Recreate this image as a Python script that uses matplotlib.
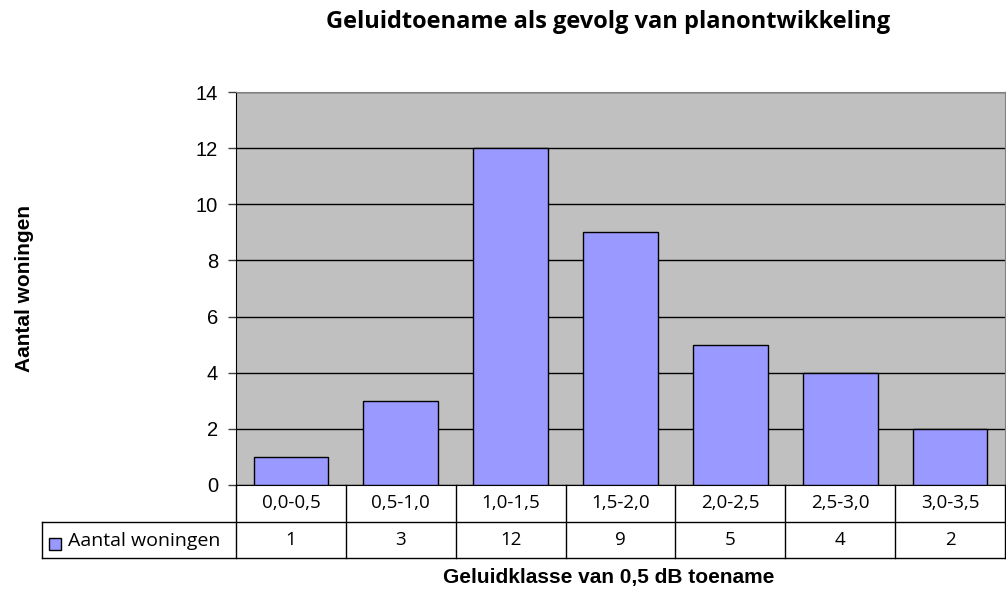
import numpy as np
import matplotlib.pyplot as plt
from matplotlib.lines import Line2D
from matplotlib.patches import Rectangle
from matplotlib.transforms import blended_transform_factory

categories = ["0,0-0,5", "0,5-1,0", "1,0-1,5", "1,5-2,0", "2,0-2,5", "2,5-3,0", "3,0-3,5"]
values = [1, 3, 12, 9, 5, 4, 2]
series_name = "Aantal woningen"
title = "Geluidtoename als gevolg van planontwikkeling"
xlabel = "Geluidklasse van 0,5 dB toename"
ylabel = "Aantal woningen"

bar_color = "#9999FF"
W, H = 1006, 591

fig = plt.figure(figsize=(W / 100, H / 100), dpi=100)
# axes box in pixels: left 236, right 1005, top 92, bottom 485
ax = fig.add_axes([236 / W, (H - 485) / H, (1005 - 236) / W, (485 - 92) / H])
ax.set_facecolor("#C0C0C0")

x = np.arange(len(categories))
ax.bar(x, values, width=0.68, color=bar_color, edgecolor="black", linewidth=1, zorder=3)

ax.set_xlim(-0.5, len(categories) - 0.5)
ax.set_ylim(0, 14)
ax.set_yticks(range(0, 15, 2))
ax.yaxis.grid(True, color="black", linewidth=1, zorder=1)
ax.set_axisbelow(True)
ax.set_xticks([])
ax.tick_params(axis="y", labelsize=14.5, length=6, width=1, direction="out", pad=7, color="#404040")
for lab in ax.get_yticklabels():
    lab.set_family("Liberation Sans")

for s in ["top", "right"]:
    ax.spines[s].set_color("#808080")
ax.spines["left"].set_color("black")
ax.spines["bottom"].set_color("black")

# data table under the plot
def fy(py):
    return (H - py) / H

def fx(px):
    return px / W

row1_top, row2_top, row2_bot = 485, 522, 558
trans = blended_transform_factory(ax.transData, fig.transFigure)
lc = "black"
lw = 1
for b in np.arange(-0.5, len(categories) + 0.5, 1.0):
    fig.add_artist(Line2D([b, b], [fy(row1_top), fy(row2_bot)], transform=trans, color=lc, lw=lw))
fig.add_artist(Line2D([fx(42), fx(1005)], [fy(row2_top), fy(row2_top)], transform=fig.transFigure, color=lc, lw=lw))
fig.add_artist(Line2D([fx(42), fx(1005)], [fy(row2_bot), fy(row2_bot)], transform=fig.transFigure, color=lc, lw=lw))
fig.add_artist(Line2D([fx(42), fx(42)], [fy(row2_top), fy(row2_bot)], transform=fig.transFigure, color=lc, lw=lw))

for xi, cat, v in zip(x, categories, values):
    fig.text(xi, fy((row1_top + row2_top) / 2), cat, transform=trans, ha="center", va="center",
             fontsize=13.5, family="Open Sans")
    fig.text(xi, fy((row2_top + row2_bot) / 2), str(v), transform=trans, ha="center", va="center",
             fontsize=13.5, family="Open Sans")

fig.add_artist(Rectangle((fx(49), fy(550)), 12 / W, 12 / H, transform=fig.transFigure,
                         facecolor=bar_color, edgecolor="black", lw=1))
fig.text(fx(68), fy(541), series_name, ha="left", va="center", fontsize=14, family="Open Sans")

fig.text(fx(608), fy(22), title, ha="center", va="center", fontsize=17, fontweight="bold", family="Open Sans")
fig.text(fx(609), fy(577), xlabel, ha="center", va="center", fontsize=15, fontweight="bold", family="Liberation Sans")
fig.text(fx(25), fy(289), ylabel, ha="center", va="center", rotation=90, fontsize=15, fontweight="bold",
         family="Liberation Sans")

fig.savefig("out.png", dpi=100)
